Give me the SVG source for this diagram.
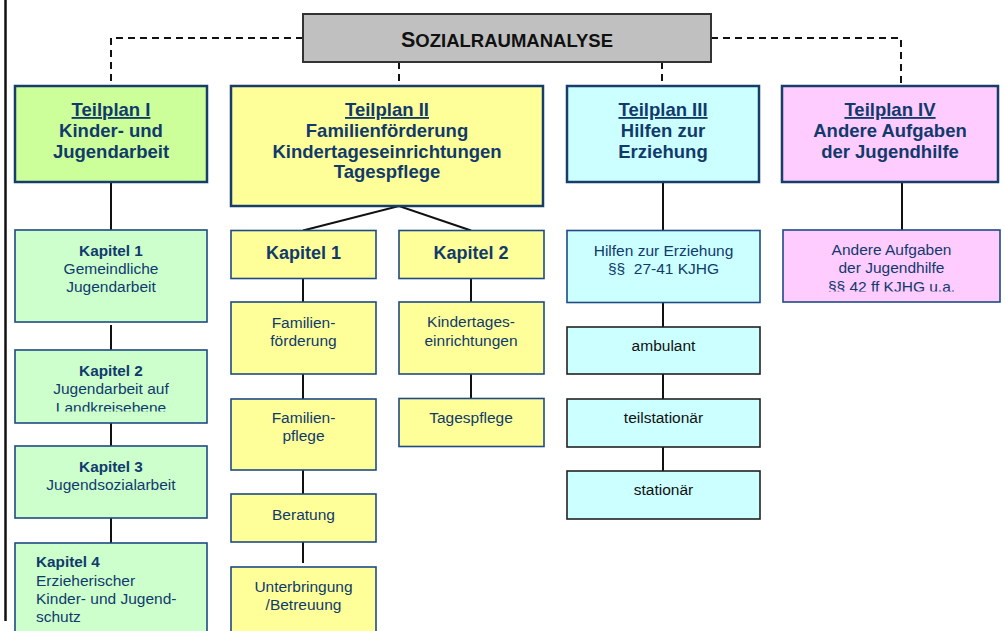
<svg xmlns="http://www.w3.org/2000/svg" width="1005" height="631" viewBox="0 0 1005 631">
<defs>
<style>
text{font-family:"Liberation Sans",Arial,sans-serif;fill:#113a6c;text-anchor:middle}
.h{font-size:18.5px;font-weight:bold}
.u{text-decoration:underline}
.k{font-size:15.3px;font-weight:bold}
.t{font-size:15.5px}
.kb{font-size:18px;font-weight:bold}
.blk{fill:#111}
.tp{stroke:#173d6b;stroke-width:2.5}
.bx{stroke:#1f4a85;stroke-width:1.6}
.bk{stroke:#222;stroke-width:1.6}
.ln{stroke:#111;stroke-width:2;fill:none}
.ds{stroke:#111;stroke-width:2;fill:none;stroke-dasharray:7 5}
</style>
<clipPath id="c2"><rect x="15" y="350" width="192" height="61.5"/></clipPath>
<clipPath id="c4"><rect x="783" y="230" width="217" height="61.5"/></clipPath>
</defs>
<rect width="1005" height="631" fill="#fff"/>
<g id="connectors">
<line class="ln" x1="5.5" y1="0" x2="5.5" y2="621" style="stroke-width:2.5"/>
<polyline class="ds" points="303,38 111,38 111,86"/>
<polyline class="ds" points="711,38 901,38 901,86"/>
<line class="ds" x1="399" y1="62" x2="399" y2="86"/>
<line class="ds" x1="662" y1="62" x2="662" y2="86"/>
<line class="ln" x1="111" y1="182" x2="111" y2="230"/>
<line class="ln" x1="111" y1="325" x2="111" y2="350"/>
<line class="ln" x1="111" y1="423" x2="111" y2="446"/>
<line class="ln" x1="111" y1="518" x2="111" y2="543"/>
<polyline class="ln" points="303,230.5 399,206 471,230.5"/>
<line class="ln" x1="303" y1="278" x2="303" y2="302"/>
<line class="ln" x1="303" y1="374" x2="303" y2="399"/>
<line class="ln" x1="303" y1="470" x2="303" y2="494"/>
<line class="ln" x1="303" y1="542" x2="303" y2="563"/>
<line class="ln" x1="471" y1="278" x2="471" y2="302"/>
<line class="ln" x1="471" y1="374" x2="471" y2="398"/>
<line class="ln" x1="663" y1="182" x2="663" y2="230.5"/>
<line class="ln" x1="663" y1="302.5" x2="663" y2="327"/>
<line class="ln" x1="663" y1="374" x2="663" y2="399"/>
<line class="ln" x1="663" y1="447" x2="663" y2="471"/>
<line class="ln" x1="902" y1="182" x2="902" y2="230"/>
</g>
<g id="sozialraumanalyse">
<rect x="303" y="14" width="408" height="48" fill="#c0c0c0" stroke="#333" stroke-width="2"/>
<text x="507" y="46.7" class="blk" style="font-weight:bold;font-size:18.5px"><tspan style="font-size:21.5px">S</tspan>OZIALRAUMANALYSE</text>
</g>
<g id="teilplan1">
<rect x="15" y="86" width="192" height="96" fill="#ccff99" class="tp"/>
<text x="111" y="116" class="h u">Teilplan I</text>
<text x="111" y="137" class="h">Kinder- und</text>
<text x="111" y="157.5" class="h">Jugendarbeit</text>
</g>
<g id="teilplan2">
<rect x="231" y="86" width="312" height="120" fill="#ffff99" class="tp"/>
<text x="387" y="116" class="h u">Teilplan II</text>
<text x="387" y="137" class="h">Familienförderung</text>
<text x="387" y="157.5" class="h">Kindertageseinrichtungen</text>
<text x="387" y="178" class="h">Tagespflege</text>
</g>
<g id="teilplan3">
<rect x="567" y="86" width="192" height="96" fill="#ccffff" class="tp"/>
<text x="663" y="116" class="h u">Teilplan III</text>
<text x="663" y="137" class="h">Hilfen zur</text>
<text x="663" y="157.5" class="h">Erziehung</text>
</g>
<g id="teilplan4">
<rect x="782" y="86" width="216" height="96" fill="#ffccff" class="tp"/>
<text x="890" y="116" class="h u">Teilplan IV</text>
<text x="890" y="137" class="h">Andere Aufgaben</text>
<text x="890" y="157.5" class="h">der Jugendhilfe</text>
</g>
<g id="t1k1">
<rect x="15" y="230" width="192" height="92" fill="#ccffcc" class="bx"/>
<text x="111" y="255.7" class="k">Kapitel 1</text>
<text x="111" y="274" class="t">Gemeindliche</text>
<text x="111" y="292" class="t">Jugendarbeit</text>
</g>
<g id="t1k2">
<rect x="15" y="350" width="192" height="73" fill="#ccffcc" class="bx"/>
<text x="111" y="375.7" class="k">Kapitel 2</text>
<text x="111" y="394" class="t">Jugendarbeit auf</text>
<text x="111" y="412.5" class="t" clip-path="url(#c2)">Landkreisebene</text>
</g>
<g id="t1k3">
<rect x="15" y="446" width="192" height="72" fill="#ccffcc" class="bx"/>
<text x="111" y="471.7" class="k">Kapitel 3</text>
<text x="111" y="490" class="t">Jugendsozialarbeit</text>
</g>
<g id="t1k4">
<rect x="15" y="543" width="192" height="100" fill="#ccffcc" class="bx"/>
<text x="36" y="567.3" class="k" style="text-anchor:start">Kapitel 4</text>
<text x="36" y="585.7" class="t" style="text-anchor:start">Erzieherischer</text>
<text x="36" y="604" class="t" style="text-anchor:start">Kinder- und Jugend-</text>
<text x="36" y="622.3" class="t" style="text-anchor:start">schutz</text>
</g>
<g id="t2k1">
<rect x="231" y="230.5" width="145" height="48" fill="#ffff99" class="bx"/>
<text x="303.5" y="259.3" class="kb">Kapitel 1</text>
</g>
<g id="t2k2">
<rect x="399" y="230.5" width="145" height="48" fill="#ffff99" class="bx"/>
<text x="471" y="259.3" class="kb">Kapitel 2</text>
</g>
<g id="familienfoerderung">
<rect x="231" y="302" width="145" height="72" fill="#ffff99" class="bx"/>
<text x="303.5" y="327.7" class="t">Familien-</text>
<text x="303.5" y="346" class="t">förderung</text>
</g>
<g id="familienpflege">
<rect x="231" y="399" width="145" height="71" fill="#ffff99" class="bx"/>
<text x="303.5" y="422.7" class="t">Familien-</text>
<text x="303.5" y="440.7" class="t">pflege</text>
</g>
<g id="beratung">
<rect x="231" y="494" width="145" height="48" fill="#ffff99" class="bx"/>
<text x="303.5" y="520" class="t">Beratung</text>
</g>
<g id="unterbringung">
<rect x="231" y="567" width="145" height="80" fill="#ffff99" class="bx"/>
<text x="303.5" y="592.3" class="t">Unterbringung</text>
<text x="303.5" y="610" class="t">/Betreuung</text>
</g>
<g id="kindertageseinrichtungen">
<rect x="399" y="302" width="145" height="72" fill="#ffff99" class="bx"/>
<text x="471" y="327.3" class="t">Kindertages-</text>
<text x="471" y="345.7" class="t">einrichtungen</text>
</g>
<g id="tagespflege">
<rect x="399" y="398.5" width="145" height="48" fill="#ffff99" class="bx"/>
<text x="471" y="422.7" class="t">Tagespflege</text>
</g>
<g id="hilfen">
<rect x="567" y="230.5" width="193" height="72" fill="#ccffff" class="bx"/>
<text x="663.5" y="256" class="t">Hilfen zur Erziehung</text>
<text x="663.5" y="274" class="t" style="white-space:pre">§§  27-41 KJHG</text>
</g>
<g id="ambulant">
<rect x="567" y="327" width="193" height="47" fill="#ccffff" class="bk"/>
<text x="663.5" y="350.7" class="t blk">ambulant</text>
</g>
<g id="teilstationaer">
<rect x="567" y="399" width="193" height="48" fill="#ccffff" class="bk"/>
<text x="663.5" y="422.7" class="t blk">teilstationär</text>
</g>
<g id="stationaer">
<rect x="567" y="471" width="193" height="48" fill="#ccffff" class="bk"/>
<text x="663.5" y="495" class="t blk">stationär</text>
</g>
<g id="andere">
<rect x="783" y="230" width="217" height="72" fill="#ffccff" class="bx"/>
<text x="891.5" y="255" class="t">Andere Aufgaben</text>
<text x="891.5" y="273.3" class="t">der Jugendhilfe</text>
<text x="891.5" y="291.5" class="t" clip-path="url(#c4)">§§ 42 ff KJHG u.a.</text>
</g>
</svg>
